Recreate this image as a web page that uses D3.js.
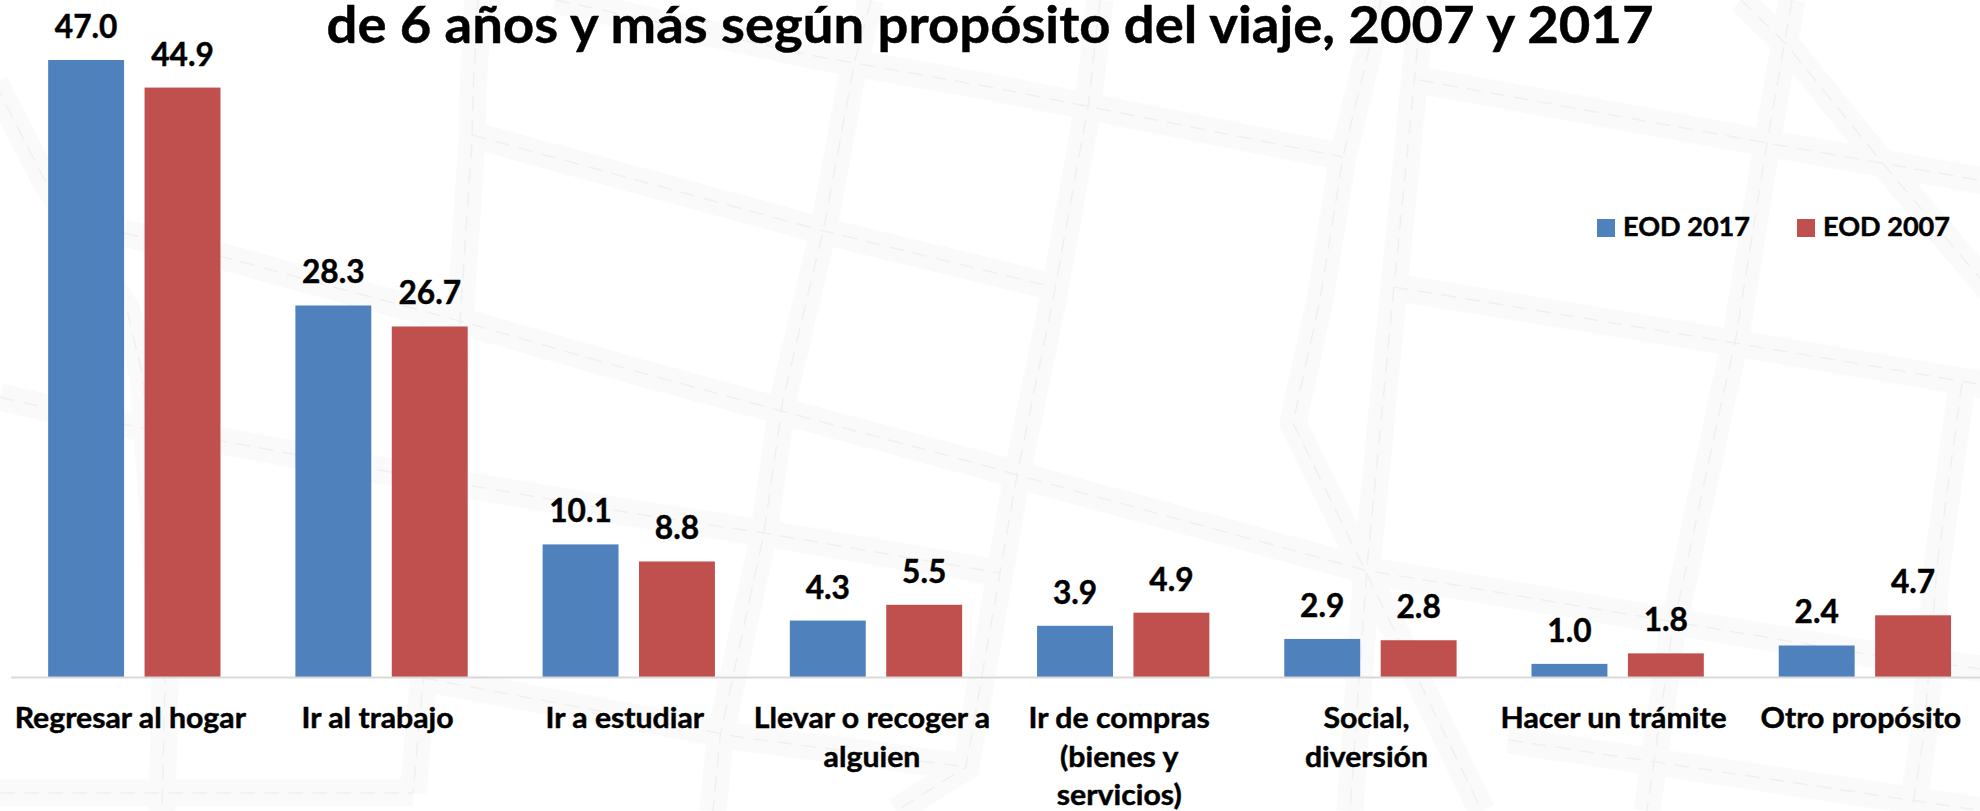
<!DOCTYPE html>
<html><head><meta charset="utf-8">
<script src="https://cdnjs.cloudflare.com/ajax/libs/d3/7.8.5/d3.min.js"></script>
<style>html,body{margin:0;padding:0;background:#fff;overflow:hidden}svg{display:block}text{font-family:Lato,Carlito,sans-serif;font-weight:700;fill:#000;stroke:#000;stroke-width:.45px}</style>
</head><body><svg id="c" width="1980" height="811"></svg>
<script>
const categories=["Regresar al hogar","Ir al trabajo","Ir a estudiar","Llevar o recoger a|alguien","Ir de compras|(bienes y|servicios)","Social,|diversión","Hacer un trámite","Otro propósito"];
const eod2017=[47.0,28.3,10.1,4.3,3.9,2.9,1.0,2.4];
const eod2007=[44.9,26.7,8.8,5.5,4.9,2.8,1.8,4.7];
const seriesNames=["EOD 2017","EOD 2007"];
const seriesColors=["#4f81bd","#c0504d"];
const titleText="de 6 años y más según propósito del viaje, 2007 y 2017";
// decorative street map behind the chart
const streets=[
 [[-5,83],[43,177],[127,310],[143,377],[165,683],[162,811]],
 [[124,233],[227,258],[467,323],[631,370],[789,413],[990,467],[1017,475],[1365,570],[1621,613],[1861,653],[1990,670]],
 [[0,397],[43,407],[127,425],[233,443],[379,470],[631,513],[764,533],[1000,573]],
 [[423,678],[739,737],[966,767]],
 [[1508,740],[1990,812]],
 [[472,135],[820,230],[1053,287]],
 [[555,0],[820,57],[990,87],[1343,157]],
 [[1419,80],[1767,143],[1990,182]],
 [[1394,287],[1735,343],[1990,386]],
 [[478,0],[473,93],[472,140],[460,320],[422,693],[413,793]],
 [[871,0],[855,60],[824,227],[783,400],[764,533],[720,737],[713,811]],
 [[1100,0],[1088,107],[1053,300],[1017,475],[1000,573],[966,767],[896,811]],
 [[1381,0],[1343,157],[1320,300],[1293,423],[1365,570],[1482,811]],
 [[1425,0],[1419,33],[1394,287],[1367,567],[1350,811]],
 [[1792,0],[1767,143],[1735,343],[1722,400],[1672,633],[1647,811]],
 [[1741,0],[1785,43],[1880,160],[1990,290]],
 [[1962,383],[1937,567],[1924,733],[1912,811]],
 [[0,793],[413,793]]
];
const svg=d3.select("#c");
const line=d3.line();
const bg=svg.append("g");
bg.selectAll("path.band").data(streets).join("path").attr("class","band").attr("d",line)
  .attr("fill","none").attr("stroke","#fafafa").attr("stroke-width",27);
bg.selectAll("path.dash").data(streets).join("path").attr("class","dash").attr("d",line)
  .attr("fill","none").attr("stroke","#f0f0f0").attr("stroke-width",1.5).attr("stroke-dasharray","15 9");

function fit(sel,f){sel.each(function(){const t=d3.select(this);t.attr("textLength",this.getComputedTextLength()*f).attr("lengthAdjust","spacingAndGlyphs");});}

const x=d3.scaleBand().domain(categories).range([10.7,1988.5]).paddingInner(.303).paddingOuter(.1515);
const sub=d3.scaleBand().domain(seriesNames).range([0,x.bandwidth()]).paddingInner(.2124);
const y=d3.scaleLinear().domain([0,47]).range([677,60]);
const values=[eod2017,eod2007];
const color=d3.scaleOrdinal(seriesNames,seriesColors);

seriesNames.forEach((s,si)=>{
  const rows=categories.map((c,i)=>({c,v:values[si][i]}));
  const g=svg.append("g");
  g.selectAll("rect").data(rows).join("rect")
   .attr("x",d=>x(d.c)+sub(s)).attr("width",sub.bandwidth())
   .attr("y",d=>y(d.v)).attr("height",d=>y(0)-y(d.v)).attr("fill",color(s));
  g.selectAll("text").data(rows).join("text")
   .attr("x",d=>x(d.c)+sub(s)+sub.bandwidth()/2).attr("y",d=>y(d.v)-22)
   .attr("text-anchor","middle").attr("font-size",33).text(d=>d.v.toFixed(1)).call(fit,.96);
});

const ax=svg.append("g").attr("transform",`translate(0,${y(0)})`).call(d3.axisBottom(x).tickSize(0).tickPadding(0));
ax.select(".domain").attr("stroke","#d9d9d9").attr("stroke-width",2);
ax.selectAll(".tick text").each(function(d){
  const parent=d3.select(this.parentNode);
  d3.select(this).remove();
  d.split("|").forEach((ln,i)=>{
    parent.append("text").attr("x",-4).attr("y",51+i*38.7).attr("text-anchor","middle").attr("font-size",28).text(ln).call(fit,1.08);
  });
});

svg.append("text").attr("x",990).attr("y",43).attr("text-anchor","middle").attr("font-size",52).attr("textLength",1327).attr("lengthAdjust","spacingAndGlyphs").text(titleText);

const legendX=d3.scaleOrdinal(seriesNames,[1597,1797]);
const lg=svg.append("g").selectAll("g").data(seriesNames).join("g").attr("transform",d=>`translate(${legendX(d)},219)`);
lg.append("rect").attr("width",18).attr("height",18).attr("fill",d=>color(d));
lg.append("text").attr("x",26).attr("y",17).attr("font-size",27).attr("textLength",127).attr("lengthAdjust","spacingAndGlyphs").text(d=>d);
</script></body></html>
